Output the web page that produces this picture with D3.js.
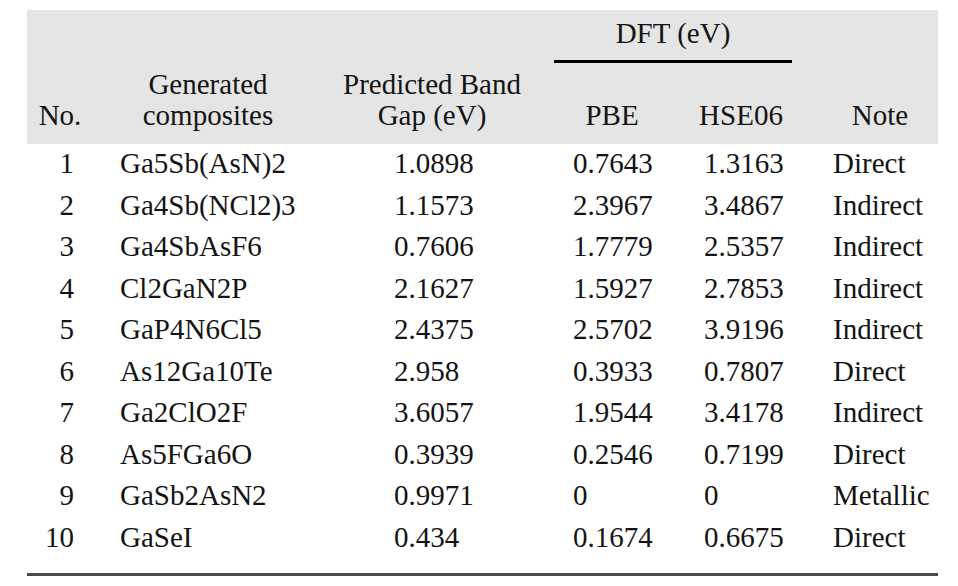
<!DOCTYPE html>
<html>
<head>
<meta charset="utf-8">
<script src="https://cdn.jsdelivr.net/npm/d3@7"></script>
<style>body { margin: 0; background: #fff; }</style>
</head>
<body>
<svg id="chart" width="958" height="586"></svg>
<script>
/*
    Table of generated composites and their band gaps
 */

const rowNumbers = [1, 2, 3, 4, 5, 6, 7, 8, 9, 10];
const composites = ["Ga5Sb(AsN)2", "Ga4Sb(NCl2)3", "Ga4SbAsF6", "Cl2GaN2P", "GaP4N6Cl5",
    "As12Ga10Te", "Ga2ClO2F", "As5FGa6O", "GaSb2AsN2", "GaSeI"];
const predictedGap = [1.0898, 1.1573, 0.7606, 2.1627, 2.4375, 2.958, 3.6057, 0.3939, 0.9971, 0.434];
const pbeGap = [0.7643, 2.3967, 1.7779, 1.5927, 2.5702, 0.3933, 1.9544, 0.2546, 0, 0.1674];
const hseGap = [1.3163, 3.4867, 2.5357, 2.7853, 3.9196, 0.7807, 3.4178, 0.7199, 0, 0.6675];
const notes = ["Direct", "Indirect", "Indirect", "Indirect", "Indirect",
    "Direct", "Indirect", "Direct", "Metallic", "Direct"];

const groupLabel = "DFT (eV)";
const headerLines = {
    no: ["", "No."],
    comp: ["Generated", "composites"],
    pred: ["Predicted Band", "Gap (eV)"],
    pbe: ["", "PBE"],
    hse: ["", "HSE06"],
    note: ["", "Note"]
};

const svg = d3.select("#chart");
const FONT = 29;

// column keys -> x positions for headers (centred) and cells
const columns = ["no", "comp", "pred", "pbe", "hse", "note"];
const headerX = d3.scaleOrdinal().domain(columns).range([60, 208, 432, 612, 741, 880]);
const cellX = d3.scaleOrdinal().domain(columns).range([74, 120, 394, 573, 704, 833]);
const cellAnchor = d3.scaleOrdinal().domain(columns).range(["end", "start", "start", "start", "start", "start"]);

// row baselines
const rowY = d3.scaleLinear().domain([0, rowNumbers.length - 1]).range([173, 547]);

function styleText(sel) {
    return sel.style("font-family", '"Liberation Serif"', "important")
        .attr("font-size", FONT)
        .attr("fill", "#141414");
}

// header background
svg.append("rect")
    .attr("x", 27).attr("y", 10)
    .attr("width", 911).attr("height", 134)
    .attr("fill", "#e5e5e5");

// DFT group label + rule
svg.append("text")
    .attr("x", 673).attr("y", 43)
    .attr("text-anchor", "middle")
    .call(styleText)
    .text(groupLabel);

svg.append("rect")
    .attr("x", 554).attr("y", 60)
    .attr("width", 238).attr("height", 3)
    .attr("fill", "#000");

// column headers, two lines each
columns.forEach((c) => {
    headerLines[c].forEach((line, i) => {
        if (!line) return;
        svg.append("text")
            .attr("x", headerX(c))
            .attr("y", i === 0 ? 94 : 125)
            .attr("text-anchor", "middle")
            .call(styleText)
            .text(line);
    });
});

// body rows
const rows = rowNumbers.map((n, i) => ({
    no: n,
    comp: composites[i],
    pred: predictedGap[i],
    pbe: pbeGap[i],
    hse: hseGap[i],
    note: notes[i]
}));

const rowSel = svg.selectAll("g.row").data(rows).enter()
    .append("g").attr("class", "row")
    .attr("transform", (d, i) => `translate(0,${rowY(i)})`);

columns.forEach((c) => {
    rowSel.append("text")
        .attr("x", cellX(c))
        .attr("text-anchor", cellAnchor(c))
        .call(styleText)
        .text((d) => String(d[c]));
});

// bottom rule
svg.append("rect")
    .attr("x", 27).attr("y", 573)
    .attr("width", 911).attr("height", 3)
    .attr("fill", "#4a4a4a");
</script>
</body>
</html>
